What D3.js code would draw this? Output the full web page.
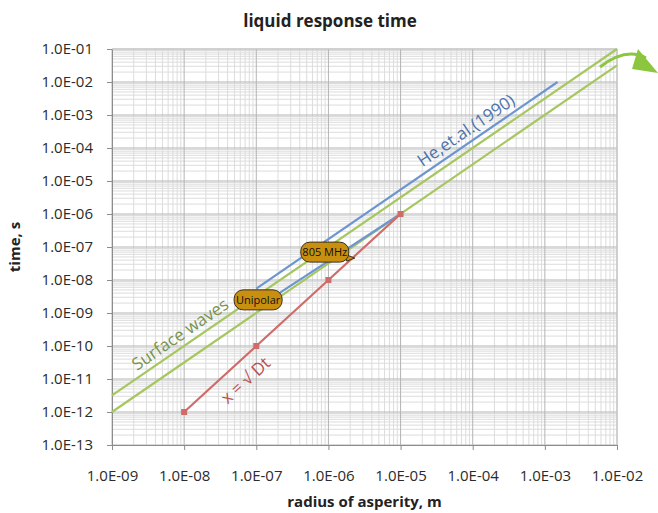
<!DOCTYPE html>
<html>
<head>
<meta charset="utf-8">
<script src="https://cdn.jsdelivr.net/npm/d3@7"></script>
<style>
  body { margin: 0; background: #fff; }
  svg { display: block; font-family: "Open Sans", sans-serif; }
</style>
</head>
<body>
<svg id="chart" width="658" height="513"></svg>
<script>
// axis ticks
var xTicks = [1e-9, 1e-8, 1e-7, 1e-6, 1e-5, 1e-4, 1e-3, 1e-2];
var yTicks = [1e-1, 1e-2, 1e-3, 1e-4, 1e-5, 1e-6, 1e-7, 1e-8, 1e-9, 1e-10, 1e-11, 1e-12, 1e-13];

// x = sqrt(Dt)
var diffR = [1e-8, 1e-7, 1e-6, 1e-5];
var diffT = [1e-12, 1e-10, 1e-8, 1e-6];

// surface waves (two bounds)
var surfUpR = [1e-9, 1e-2];
var surfUpT = [3.2e-12, 1e-1];
var surfLoR = [1e-9, 1e-2];
var surfLoT = [1e-12, 3.2e-2];

// He et al. (1990)
var heR = [1e-7, 1.5e-3];
var heT = [5.5e-9, 1e-2];
var heLoR = [1.05e-7, 1e-5];
var heLoT = [1.5e-9, 1e-6];

// callouts
var calloutText = ['Unipolar', '805 MHz'];
var calloutR = [1.06e-7, 8.9e-7];
var calloutT = [2.5e-9, 7e-8];

(function () {
  'use strict';
  var svg = d3.select('#chart');
  var m = { left: 112, right: 617, top: 49, bottom: 445 };

  var x = d3.scaleLog().domain([1e-9, 1e-2]).range([m.left, m.right]);
  var y = d3.scaleLog().domain([1e-13, 1e-1]).range([m.bottom, m.top]);

  function fmt(v) {
    var e = Math.round(Math.log10(v));
    var s = Math.abs(e) < 10 ? '0' + Math.abs(e) : '' + Math.abs(e);
    return '1.0E' + (e < 0 ? '-' : '+') + s;
  }

  // minor + major grid
  var minorX = [], minorY = [];
  xTicks.slice(0, -1).forEach(function (d) {
    for (var k = 2; k < 10; k++) minorX.push(d * k);
  });
  yTicks.slice(1).forEach(function (d) {
    for (var k = 2; k < 10; k++) minorY.push(d * k);
  });

  var grid = svg.append('g');
  grid.selectAll('.mx').data(minorX).enter().append('line')
    .attr('x1', d => x(d)).attr('x2', d => x(d))
    .attr('y1', m.top).attr('y2', m.bottom)
    .attr('stroke', '#dcdcdc').attr('stroke-width', 1);
  grid.selectAll('.my').data(minorY).enter().append('line')
    .attr('y1', d => y(d)).attr('y2', d => y(d))
    .attr('x1', m.left).attr('x2', m.right)
    .attr('stroke', '#dcdcdc').attr('stroke-width', 1);
  grid.selectAll('.gx').data(xTicks).enter().append('line')
    .attr('x1', d => x(d)).attr('x2', d => x(d))
    .attr('y1', m.top).attr('y2', m.bottom)
    .attr('stroke', '#b4b4b4').attr('stroke-width', 1);
  grid.selectAll('.gy').data(yTicks).enter().append('line')
    .attr('y1', d => y(d)).attr('y2', d => y(d))
    .attr('x1', m.left).attr('x2', m.right)
    .attr('stroke', '#b4b4b4').attr('stroke-width', 1);

  // axes
  var xAxis = d3.axisBottom(x).tickValues(xTicks).tickFormat(fmt).tickSize(5).tickPadding(20);
  var yAxis = d3.axisLeft(y).tickValues(yTicks).tickFormat(fmt).tickSize(5).tickPadding(14);
  var gx = svg.append('g').attr('transform', 'translate(0,' + m.bottom + ')').call(xAxis);
  var gy = svg.append('g').attr('transform', 'translate(' + m.left + ',0)').call(yAxis);
  [gx, gy].forEach(function (g) {
    g.select('.domain').attr('stroke', '#8c8c8c');
    g.selectAll('.tick line').attr('stroke', '#8c8c8c');
    g.selectAll('.tick text').attr('fill', '#2b2b2b').style('font-size', '15px')
      .style('font-family', '"Open Sans", sans-serif');
  });
  svg.append('line').attr('x1', m.right).attr('x2', m.right).attr('y1', m.top).attr('y2', m.bottom)
    .attr('stroke', '#c8c8c8');
  svg.append('line').attr('x1', m.left).attr('x2', m.right).attr('y1', m.top).attr('y2', m.top)
    .attr('stroke', '#c8c8c8');

  // series
  var line = d3.line().x(d => x(d[0])).y(d => y(d[1]));
  function zip(a, b) { return a.map(function (v, i) { return [v, b[i]]; }); }

  var series = [
    { r: surfUpR, t: surfUpT, color: '#a6c65f' },
    { r: surfLoR, t: surfLoT, color: '#a6c65f' },
    { r: heR, t: heT, color: '#6d95cf' },
    { r: heLoR, t: heLoT, color: '#6d95cf' },
    { r: diffR, t: diffT, color: '#cf6c69' }
  ];
  series.forEach(function (s) {
    svg.append('path').datum(zip(s.r, s.t))
      .attr('d', line).attr('fill', 'none')
      .attr('stroke', s.color).attr('stroke-width', 2.2);
  });
  svg.selectAll('.mk').data(zip(diffR, diffT)).enter().append('rect')
    .attr('x', d => x(d[0]) - 3).attr('y', d => y(d[1]) - 3)
    .attr('width', 6).attr('height', 6).attr('fill', '#cf6c69');

  // rotated series labels, anchored on their line (log-linear interpolation)
  function onLine(r, t, rv) {
    var lx0 = Math.log10(r[0]), lx1 = Math.log10(r[r.length - 1]);
    var ly0 = Math.log10(t[0]), ly1 = Math.log10(t[t.length - 1]);
    var f = (Math.log10(rv) - lx0) / (lx1 - lx0);
    return [x(rv), y(Math.pow(10, ly0 + f * (ly1 - ly0)))];
  }
  function slopeAngle(r, t) {
    var dx = x(r[r.length - 1]) - x(r[0]);
    var dy = y(t[t.length - 1]) - y(t[0]);
    return Math.atan2(dy, dx) * 180 / Math.PI;
  }
  function lineLabel(r, t, rv, dy, txt, color) {
    var p = onLine(r, t, rv);
    svg.append('text')
      .attr('transform', 'translate(' + p[0] + ',' + p[1] + ') rotate(' + slopeAngle(r, t) + ')')
      .attr('text-anchor', 'middle').attr('dy', dy)
      .attr('fill', color).style('font-size', '17px')
      .text(txt);
  }
  lineLabel(heR, heT, 1.0e-4, -6, 'He,et.al.(1990)', '#4f73a8');
  lineLabel(surfUpR, surfUpT, 1.09e-8, -6, 'Surface waves', '#7a944a');
  lineLabel(diffR, diffT, 4.8e-8, 24, 'x = \u221A Dt', '#b9524e');

  // callouts
  var co = svg.selectAll('.co').data(calloutText).enter().append('g')
    .attr('transform', (d, i) => 'translate(' + x(calloutR[i]) + ',' + y(calloutT[i]) + ')');
  co.filter((d, i) => i === 1).append('path')
    .attr('d', 'M20,2 L30,6 L22,9 Z').attr('fill', '#c98f0e').attr('stroke', '#3a3020').attr('stroke-width', 1);
  co.append('rect')
    .attr('x', -24).attr('y', -10).attr('width', 48).attr('height', 20)
    .attr('rx', 9).attr('ry', 9)
    .attr('fill', '#c98f0e').attr('stroke', '#3a3020').attr('stroke-width', 1);
  co.append('text').attr('text-anchor', 'middle').attr('dy', 4)
    .style('font-size', '11px').attr('fill', '#111').text(d => d);

  // green arrow at the top right
  svg.append('path').attr('d', 'M600,67 Q626,47 646,58')
    .attr('stroke', '#8cc63f').attr('fill', 'none').attr('stroke-width', 3);
  svg.append('path').attr('d', 'M638,49 L658,73 L632,69 Z').attr('fill', '#8cc63f');

  // titles
  svg.append('text').attr('x', 330).attr('y', 27).attr('text-anchor', 'middle')
    .style('font-size', '17px').style('font-weight', 'bold').attr('fill', '#222')
    .text('liquid response time');
  svg.append('text').attr('x', (m.left + m.right) / 2).attr('y', 507).attr('text-anchor', 'middle')
    .style('font-size', '15px').style('font-weight', 'bold').attr('fill', '#222')
    .text('radius of asperity, m');
  svg.append('text').attr('transform', 'translate(20,' + (m.top + m.bottom) / 2 + ') rotate(-90)')
    .attr('text-anchor', 'middle')
    .style('font-size', '15px').style('font-weight', 'bold').attr('fill', '#222')
    .text('time, s');
})();
</script>
</body>
</html>
